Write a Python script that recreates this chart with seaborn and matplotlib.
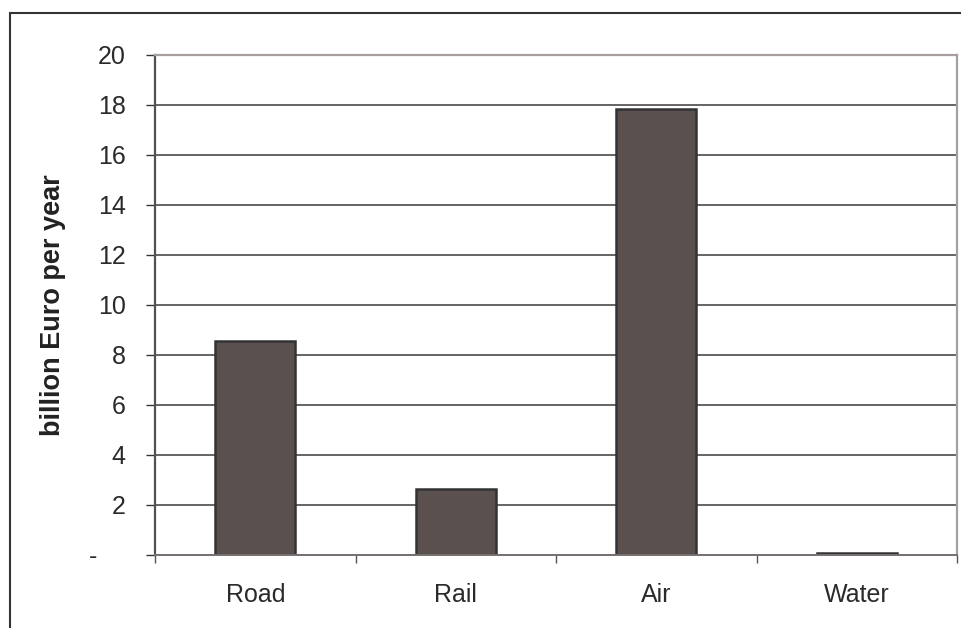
import matplotlib
matplotlib.use("Agg")
import matplotlib.pyplot as plt
from matplotlib.patches import Rectangle
from matplotlib.ticker import FixedLocator
import seaborn as sns
import pandas as pd

categories = ["Road", "Rail", "Air", "Water"]
values = [8.56, 2.64, 17.85, 0.08]
y_ticks = [0, 2, 4, 6, 8, 10, 12, 14, 16, 18, 20]
y_tick_labels = ["-    ", "2", "4", "6", "8", "10", "12", "14", "16", "18", "20"]

sns.set_theme(style="white")
plt.rcParams["font.family"] = ["Liberation Sans", "DejaVu Sans"]

df = pd.DataFrame({"mode": categories, "value": values})

W, H = 962, 628
FS = 18
fig = plt.figure(figsize=(W / 100, H / 100), dpi=100)
ax = fig.add_axes([155 / W, 1 - 555 / H, (957 - 155) / W, (555 - 55) / H])

sns.barplot(data=df, x="mode", y="value", ax=ax, width=0.4,
            color="#5a514e", saturation=1, edgecolor="#333236", linewidth=1.8)

ax.set_xlim(-0.5, len(categories) - 0.5)
ax.set_ylim(0, 20)
ax.set_yticks(y_ticks)
ax.set_yticklabels(y_tick_labels)
ax.yaxis.grid(True, color="#3a3a3a", linewidth=1.1)
ax.set_axisbelow(True)

# category separators as tick marks below the axis
ax.set_xticks(range(len(categories)))
ax.set_xticklabels(categories)
ax.xaxis.set_minor_locator(FixedLocator([i - 0.5 for i in range(len(categories) + 1)]))
ax.tick_params(axis="x", which="major", length=0, pad=20, labelsize=FS, colors="#2a2a2a")
ax.tick_params(axis="x", which="minor", bottom=True, length=6, width=1, color="#555555")
ax.tick_params(axis="y", which="major", left=True, length=6.5, width=1, color="#333333",
               labelsize=FS, pad=14.5, labelcolor="#2a2a2a")

for side in ["top", "right"]:
    ax.spines[side].set_visible(True)
    ax.spines[side].set_color("#a89f9f")
    ax.spines[side].set_linewidth(1.6)
ax.spines["left"].set_color("#555050")
ax.spines["left"].set_linewidth(1.6)
ax.spines["bottom"].set_color("#777070")
ax.spines["bottom"].set_linewidth(1.4)

ax.set_xlabel("")
ax.set_ylabel("billion Euro per year", fontsize=19.5, fontweight="bold", color="#222222")
ax.yaxis.set_label_coords(-89 / (957 - 155), 0.5)

# outer frame of the chart area
fig.patches.append(Rectangle((10 / W, -0.1), 1.2, 1 - 13 / H + 0.1, transform=fig.transFigure,
                             fill=False, edgecolor="#333333", linewidth=1.5, zorder=0))

fig.savefig("out.png", dpi=100)
